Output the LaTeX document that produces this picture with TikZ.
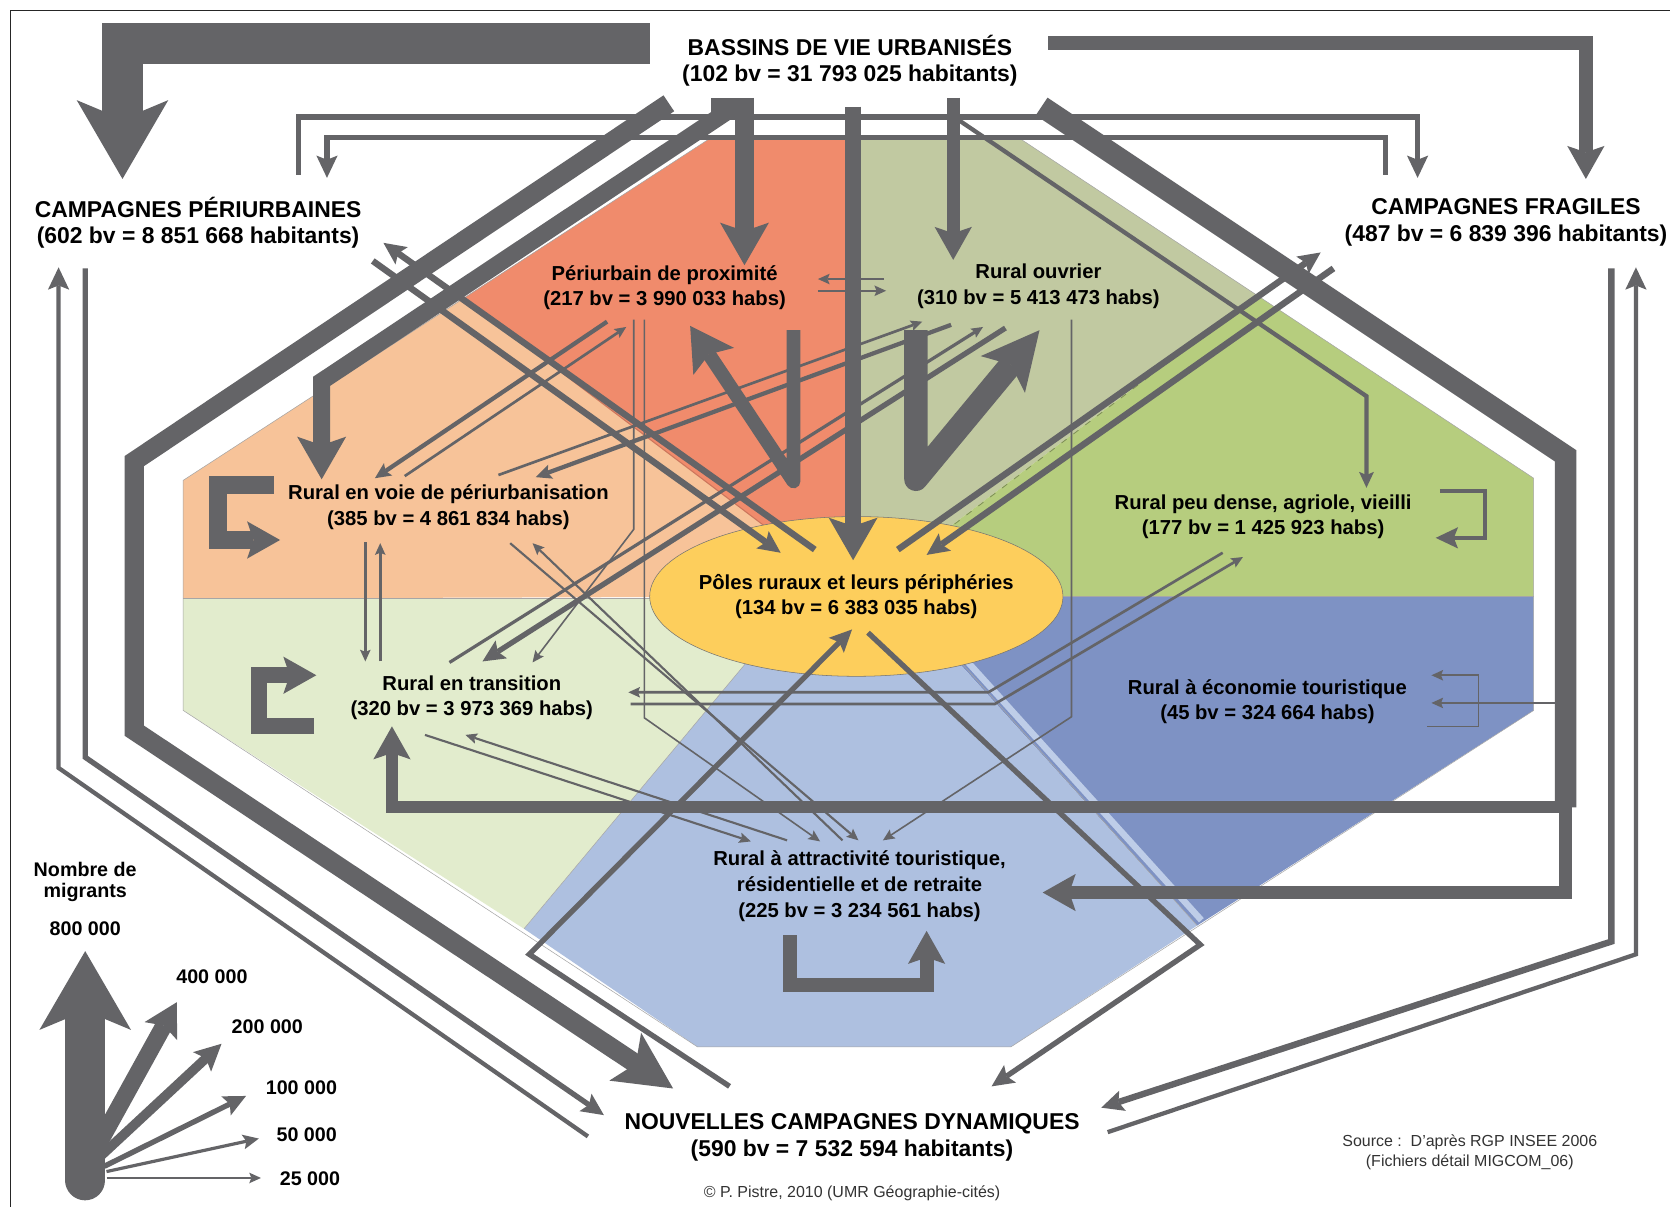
\documentclass[tikz,border=0pt]{standalone}
\usepackage{fontspec}
\setmainfont{Liberation Sans}
\usetikzlibrary{arrows.meta,positioning}

\definecolor{fgray}{RGB}{100,100,103}
\definecolor{zperi}{RGB}{240,139,108}
\definecolor{zvoie}{RGB}{247,195,153}
\definecolor{zouv}{RGB}{193,201,161}
\definecolor{zpeu}{RGB}{182,205,126}
\definecolor{ztrans}{RGB}{226,236,205}
\definecolor{zeco}{RGB}{126,146,196}
\definecolor{zattr}{RGB}{174,192,224}
\definecolor{zpole}{RGB}{253,206,92}

\tikzset{
  titre/.style={font=\fontsize{21.5}{25}\selectfont\bfseries, align=center, inner sep=0pt},
  zone/.style={font=\fontsize{19}{24}\selectfont\bfseries, align=center, inner sep=0pt},
  legende/.style={font=\fontsize{18.5}{20}\selectfont\bfseries, align=center, inner sep=0pt},
  note/.style={font=\fontsize{15}{19}\selectfont, align=center, inner sep=0pt, text=black!80},
  fl/.style={draw=fgray, line width=#1},
  limite/.style={draw=black!35, line width=0.5pt},
  hxs/.style={-{Stealth[length=11pt,width=10pt,inset=2pt,line width=0pt]}},
  hs/.style={-{Stealth[length=15pt,width=14pt,inset=3pt,line width=0pt]}},
  hm/.style={-{Stealth[length=21pt,width=20pt,inset=4pt,line width=0pt]}},
  hl/.style={-{Stealth[length=31pt,width=35pt,inset=6pt,line width=0pt]}},
  hxl/.style={-{Stealth[length=40pt,width=46pt,inset=8pt,line width=0pt]}},
  hxxl/.style={-{Stealth[length=54pt,width=54pt,inset=12pt,line width=0pt]}},
  hmax/.style={-{Stealth[length=74pt,width=86pt,inset=18pt,line width=0pt]}}
}

\begin{document}
\begin{tikzpicture}[x=1pt, y=-1pt, line join=miter]
\fill[white] (0,0) rectangle (1568,1133);
\useasboundingbox (0,0) rectangle (1568,1133);
% cadre
\draw[black!85, line width=1.5pt] (10,1140) -- (10,10) -- (1575,10);

% zones
\fill[zperi] (665,131) -- (805,131) -- (805,560) -- (435,280) -- cycle;
\fill[zouv] (805,131) -- (959,131) -- (1180,277) -- (805,560) -- cycle;
\fill[zpeu] (1180,277) -- (1440,449) -- (1440,560) -- (805,560) -- cycle;
\fill[zeco] (805,560) -- (1440,560) -- (1440,667) -- (1124,869) -- (880,600) -- cycle;
\fill[zattr] (880,600) -- (1124,869) -- (949,983) -- (655,983) -- (492,872) -- (719,600) -- (805,560) -- cycle;
\fill[ztrans] (172,562) -- (805,562) -- (719,600) -- (492,872) -- (172,667) -- cycle;
\fill[zvoie] (172,451) -- (435,280) -- (805,560) -- (172,562) -- cycle;
\draw[line width=6pt, color={rgb,255:red,190;green,205;blue,232}] (909,622) -- (1128,864);
\draw[limite] (665,131) -- (959,131) -- (1440,449) -- (1440,667) -- (949,983) -- (655,983) -- (172,667) -- (172,451) -- cycle;
\draw[limite] (805,131) -- (805,490);
\draw[limite] (172,562) -- (612,562);
\draw[limite] (996,560) -- (1440,560);
\draw[limite] (492,872) -- (700,623);
\draw[limite] (1124,869) -- (904,624);
\draw[draw=zperi!85!black, line width=1pt] (435,280) -- (722,497);
\draw[draw=zpeu!70!black, line width=0.8pt, dash pattern=on 6pt off 8pt] (1180,277) -- (895,493);

% pole central
\filldraw[fill=zpole, draw=black!55, line width=0.5pt] (804,560) ellipse [x radius=194, y radius=75];
\node[zone] (poles) at (804,560) {Pôles ruraux et leurs périphéries\\(134 bv = 6 383 035 habs)};

% flux fins
\draw[fl=2pt, hxs] (768,273) -- (832,273);
\draw[fl=2pt, hxs] (830,262) -- (768,262);
\draw[fl=4pt, hs] (570,302) -- (352,449);
\draw[fl=2.5pt, hxs] (380,447) -- (588,307);
\draw[fl=2.5pt, hxs] (468,446) -- (866,302);
\draw[fl=4pt, hs] (893,305) -- (503,448);
\draw[fl=3pt, hxs] (422,622) -- (923,307);
\draw[fl=5pt, hm] (944,308) -- (453,621);
\draw[fl=1.5pt, hxs] (595,300) -- (595,497) -- (500,622);
\draw[fl=1.5pt, hxs] (605,300) -- (605,674) -- (770,790);
\draw[fl=1.5pt, hxs] (1006,300) -- (1006,673) -- (829,789);
\draw[fl=3pt, hxs] (343,509) -- (343,621);
\draw[fl=3pt, hxs] (357,621) -- (357,510);
\draw[fl=2pt, hxs] (479,510) -- (806,789);
\draw[fl=2pt, hxs] (791,789) -- (500,510);
\draw[fl=2pt, hxs] (399,690) -- (705,790);
\draw[fl=2pt, hxs] (739,789) -- (437,690);
\draw[fl=2.5pt, hxs] (1148,519) -- (928,650) -- (590,650);
\draw[fl=2.5pt, hxs] (592,661) -- (934,661) -- (1167,523);
\draw[fl=2pt, hxs] (1462,660) -- (1344,660);
\draw[fl=1.5pt, hxs] (1340,682) -- (1388,682) -- (1388,634) -- (1344,634);

% flux entre ensembles
\draw[fl=5pt, hm] (280,164) -- (280,110) -- (1331,110) -- (1331,167);
\draw[fl=5pt, hm] (1301,164) -- (1301,129) -- (307,129) -- (307,167);
\draw[fl=5pt, hm] (80,252) -- (80,711) -- (567,1047);
\draw[fl=4pt, hm] (552,1067) -- (55,721) -- (55,251);
\draw[fl=6pt, hm] (1513,252) -- (1513,884) -- (1034,1040);
\draw[fl=4pt, hm] (1040,1063) -- (1536,896) -- (1536,251);
\draw[fl=6pt, hm] (765,516) -- (360,228);
\draw[fl=6pt, hm] (350,245) -- (733,519);
\draw[fl=6pt, hm] (843,516) -- (1240,237);
\draw[fl=6pt, hm] (1252,252) -- (870,521);
\draw[fl=5pt, hm] (815,594) -- (1127,887) -- (931,1020);
\draw[fl=5pt, hm] (685,1020) -- (497,896) -- (800,591);
\draw[fl=4pt, hs] (899,112) -- (1283,372) -- (1283,458);

% flux depuis les bassins urbanises
\draw[fl=38pt, hmax] (610,41) -- (115,41) -- (115,168);
\draw[fl=13pt, hl] (984,40) -- (1489,40) -- (1489,168);
\draw[fl=18pt, hxxl] (628,97) -- (126,433) -- (126,686) -- (632,1022);
\draw[fl=16pt, hxl] (690,100) -- (302,358) -- (302,450);
\draw[fl=17pt, hxl] (699,92) -- (699,249);
\fill[fgray] (668,92) rectangle (708,110);
\draw[fl=15pt, hxl] (801,100) -- (801,526);
\draw[fl=12pt, hl] (895,92) -- (895,244);
\draw[fl=20pt] (978,100) -- (1470,428) -- (1470,758);
\draw[fl=11pt, hl] (1470,758) -- (368,758) -- (368,682);
\draw[fl=12pt, hl] (1470,752) -- (1470,838) -- (979,838);

% flux internes aux types
\draw[fl=13pt, line join=round, hxl] (745,310) -- (745,452) -- (648,306);
\draw[fl=22pt, line join=round, hxxl] (860,310) -- (860,450) -- (976,310);
\draw[fl=17pt, hl] (257,455) -- (205,455) -- (205,507) -- (263,507);
\draw[fl=15pt, hl] (295,682) -- (243,682) -- (243,634) -- (297,634);
\draw[fl=13pt, hl] (742,878) -- (742,925) -- (870,925) -- (870,874);
\draw[fl=4pt, hm] (1352,461) -- (1394,461) -- (1394,505) -- (1348,505);

% legende
\draw[fl=38pt, line cap=round, hmax] (80,1108) -- (80,893);
\draw[fl=16pt, hl] (92,1075) -- (166,941);
\draw[fl=9pt, -{Stealth[length=25pt,width=25pt,inset=5pt,line width=0pt]}] (95,1085) -- (208,980);
\draw[fl=5pt, hm] (98,1095) -- (231,1029);
\draw[fl=3pt, hs] (100,1100) -- (243,1069);
\draw[fl=1.5pt, hxs] (100,1106) -- (245,1106);

% textes
\node[titre] (bassins) at (798,57) {BASSINS DE VIE URBANISÉS\\(102 bv = 31 793 025 habitants)};
\node[titre] (periurb) at (186,209) {CAMPAGNES PÉRIURBAINES\\(602 bv = 8 851 668 habitants)};
\node[titre] (fragiles) at (1414,209) {CAMPAGNES FRAGILES\\(487 bv = 6 839 396 habitants)};
\node[titre] (nouvelles) at (800,1068) {NOUVELLES CAMPAGNES DYNAMIQUES\\(590 bv = 7 532 594 habitants)};
\node[zone] (proxi) at (624,270) {Périurbain de proximité\\(217 bv = 3 990 033 habs)};
\node[zone] (ouvrier) at (975,269) {Rural ouvrier\\(310 bv = 5 413 473 habs)};
\node[zone] (voie) at (421,476) {Rural en voie de périurbanisation\\(385 bv = 4 861 834 habs)};
\node[zone] (peu) at (1186,485) {Rural peu dense, agriole, vieilli\\(177 bv = 1 425 923 habs)};
\node[zone] (trans) at (443,655) {Rural en transition\\(320 bv = 3 973 369 habs)};
\node[zone] (eco) at (1190,659) {Rural à économie touristique\\(45 bv = 324 664 habs)};
\node[zone] (attr) at (807,832) {Rural à attractivité touristique,\\résidentielle et de retraite\\(225 bv = 3 234 561 habs)};
\node[legende] (nombre) at (80,828) {Nombre de\\migrants};
\node[legende] (l800) at (80,872) {800 000};
\node[legende] (l400) at (199,917) {400 000};
\node[legende] (l200) at (251,964) {200 000};
\node[legende] (l100) at (283,1021) {100 000};
\node[legende] (l50) at (288,1065) {50 000};
\node[legende] (l25) at (291,1107) {25 000};
\node[note] (source) at (1380,1082) {Source :\ \ D'après RGP INSEE 2006\\(Fichiers détail MIGCOM\_06)};
\node[note] (credit) at (800,1120) {© P. Pistre, 2010 (UMR Géographie-cités)};
\end{tikzpicture}
\end{document}
